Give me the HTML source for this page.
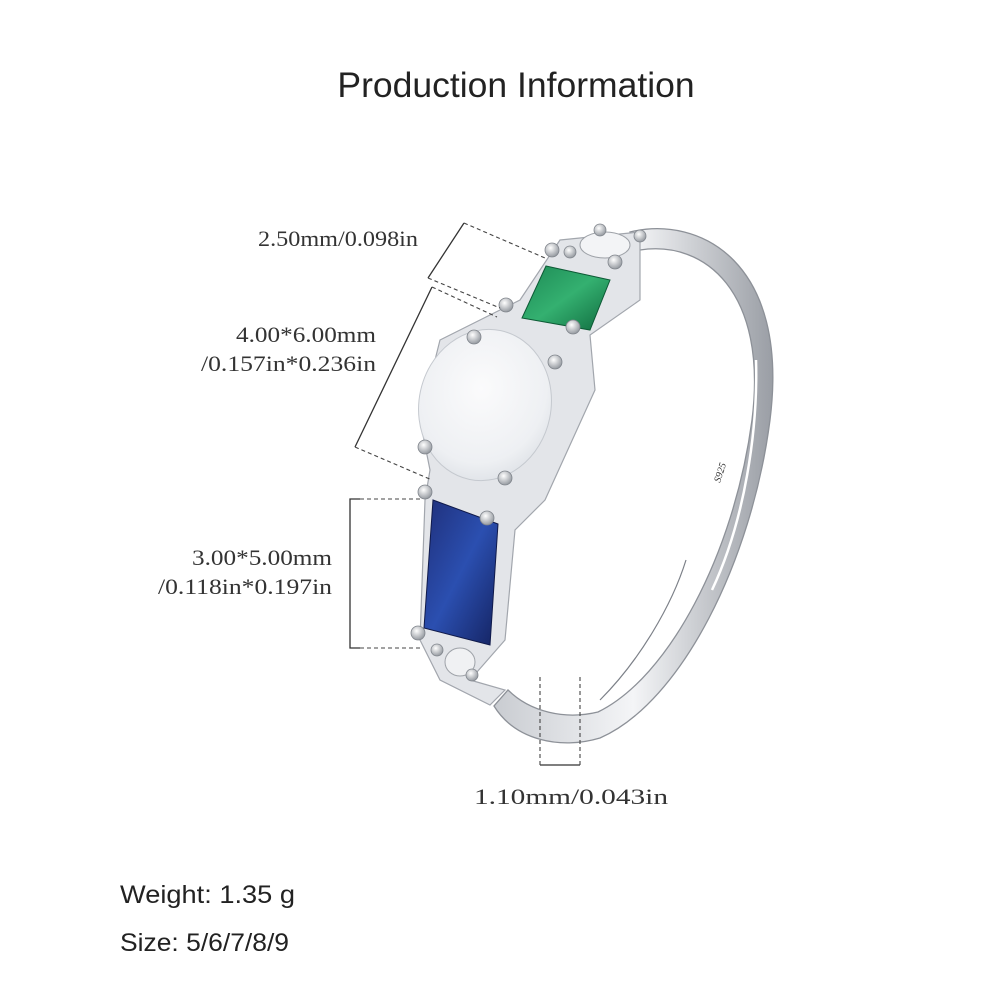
<!DOCTYPE html>
<html><head><meta charset="utf-8"><style>
html,body{margin:0;padding:0;background:#fff;width:1000px;height:1000px;overflow:hidden}
svg{display:block}
.s{font-family:"Liberation Serif",serif;font-size:22px;fill:#333}
.t{font-family:"Liberation Sans",sans-serif;fill:#222}
</style></head><body>
<svg width="1000" height="1000" viewBox="0 0 1000 1000">
<defs>
<linearGradient id="band" x1="0" y1="0" x2="1" y2="0">
<stop offset="0" stop-color="#c9ccd1"/><stop offset="0.5" stop-color="#f4f5f7"/><stop offset="1" stop-color="#9a9ea5"/>
</linearGradient>
<radialGradient id="opal" cx="0.45" cy="0.4" r="0.7">
<stop offset="0" stop-color="#fbfbfc"/><stop offset="0.7" stop-color="#eef0f3"/><stop offset="1" stop-color="#d8dce2"/>
</radialGradient>
<linearGradient id="blue" x1="0" y1="0" x2="1" y2="1">
<stop offset="0" stop-color="#1f2f7a"/><stop offset="0.5" stop-color="#2b4fb0"/><stop offset="1" stop-color="#142260"/>
</linearGradient>
<linearGradient id="green" x1="0" y1="0" x2="1" y2="1">
<stop offset="0" stop-color="#1d8a55"/><stop offset="0.5" stop-color="#34b070"/><stop offset="1" stop-color="#0f6a3e"/>
</linearGradient>
<radialGradient id="prong" cx="0.4" cy="0.35" r="0.7">
<stop offset="0" stop-color="#ffffff"/><stop offset="1" stop-color="#8e939a"/>
</radialGradient>
</defs>

<text x="516" y="97" text-anchor="middle" class="t" font-size="35.5">Production Information</text>

<path d="M630 232 C700 215 790 262 770 420 C752 560 682 702 600 738 C560 750 515 740 494 706 L508 690 C530 712 565 720 598 712 C668 678 734 555 752 420 C768 292 705 240 640 250 Z" fill="url(#band)" stroke="#8d9198" stroke-width="1.3"/>
<path d="M756 360 C758 430 745 520 712 590" fill="none" stroke="#ffffff" stroke-width="2.5"/>
<path d="M686 560 C672 605 640 660 600 700" fill="none" stroke="#7c8088" stroke-width="1.2"/>
<text x="0" y="0" font-family="Liberation Serif,serif" font-size="10" font-style="italic" fill="#333" transform="translate(720 483) rotate(-72)">S925</text>

<path d="M560 240 L640 232 L640 300 L590 335 L595 390 L545 500 L515 530 L505 640 L470 680 L505 690 L490 705 L440 680 L420 640 L425 500 L430 470 L420 420 L440 340 L500 310 L520 300 Z" fill="#e3e5e9" stroke="#a2a6ad" stroke-width="1.2"/>

<ellipse cx="605" cy="245" rx="25" ry="13" fill="#f3f4f6" stroke="#9ea2a8"/>
<ellipse cx="460" cy="662" rx="15" ry="14" fill="#f0f1f3" stroke="#9ea2a8"/>

<polygon points="546,266 610,280 590,330 522,318" fill="url(#green)" stroke="#0d5a35" stroke-width="1"/>
<ellipse cx="485" cy="405" rx="66" ry="76" transform="rotate(12 485 405)" fill="url(#opal)" stroke="#c5c9cf"/>
<polygon points="433,500 498,524 490,645 424,628" fill="url(#blue)" stroke="#101a4a" stroke-width="1"/>

<g fill="url(#prong)" stroke="#80858c" stroke-width="0.8">
<circle cx="552" cy="250" r="7"/><circle cx="570" cy="252" r="6"/><circle cx="600" cy="230" r="6"/><circle cx="615" cy="262" r="7"/><circle cx="640" cy="236" r="6"/>
<circle cx="506" cy="305" r="7"/><circle cx="573" cy="327" r="7"/>
<circle cx="474" cy="337" r="7"/><circle cx="555" cy="362" r="7"/>
<circle cx="425" cy="447" r="7"/><circle cx="505" cy="478" r="7"/>
<circle cx="425" cy="492" r="7"/><circle cx="487" cy="518" r="7"/>
<circle cx="418" cy="633" r="7"/><circle cx="437" cy="650" r="6"/><circle cx="472" cy="675" r="6"/>
</g>

<g stroke="#333" stroke-width="1.3" fill="none">
<polyline points="464,223 428,278"/>
<polyline points="432,287 355,447"/>
<polyline points="360,499 350,499 350,648 360,648"/>
<polyline points="540,765 580,765"/>
</g>
<g stroke="#444" stroke-width="1.1" fill="none" stroke-dasharray="4,3">
<line x1="464" y1="223" x2="545" y2="258"/>
<line x1="428" y1="278" x2="500" y2="308"/>
<line x1="432" y1="287" x2="497" y2="317"/>
<line x1="355" y1="447" x2="432" y2="480"/>
<line x1="360" y1="499" x2="422" y2="499"/>
<line x1="360" y1="648" x2="420" y2="648"/>
<line x1="540" y1="677" x2="540" y2="765"/>
<line x1="580" y1="677" x2="580" y2="765"/>
</g>

<text x="258" y="246" class="s" textLength="160" lengthAdjust="spacingAndGlyphs">2.50mm/0.098in</text>
<text x="236" y="342" class="s" textLength="140" lengthAdjust="spacingAndGlyphs">4.00*6.00mm</text>
<text x="201" y="371" class="s" textLength="175" lengthAdjust="spacingAndGlyphs">/0.157in*0.236in</text>
<text x="192" y="565" class="s" textLength="140" lengthAdjust="spacingAndGlyphs">3.00*5.00mm</text>
<text x="158" y="594" class="s" textLength="174" lengthAdjust="spacingAndGlyphs">/0.118in*0.197in</text>
<text x="474" y="804" class="s" textLength="194" lengthAdjust="spacingAndGlyphs">1.10mm/0.043in</text>

<text x="120" y="903" class="t" font-size="25" textLength="175" lengthAdjust="spacingAndGlyphs">Weight: 1.35 g</text>
<text x="120" y="951" class="t" font-size="25" textLength="169" lengthAdjust="spacingAndGlyphs">Size: 5/6/7/8/9</text>
</svg>
</body></html>
